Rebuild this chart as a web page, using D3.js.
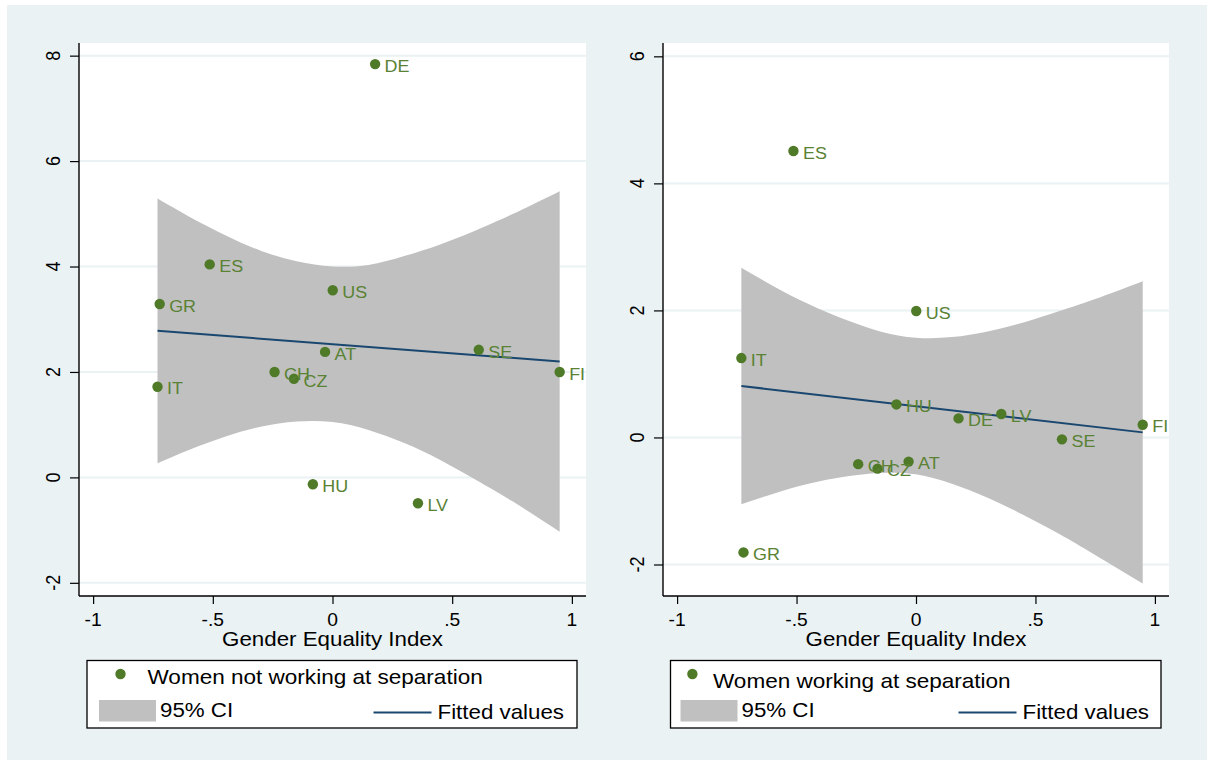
<!DOCTYPE html>
<html>
<head>
<meta charset="utf-8">
<script src="https://cdn.jsdelivr.net/npm/d3@7"></script>
<style>
  html, body { margin: 0; padding: 0; background: #ffffff; }
  svg { display: block; font-family: "Liberation Sans", Arial, Helvetica, sans-serif; }
</style>
</head>
<body>
<svg id="chart" width="1213" height="765"></svg>
<script>
// Country codes and their Gender Equality Index (shared by both panels)
const countries = ["DE", "ES", "US", "GR", "AT", "SE", "CH", "CZ", "FI", "IT", "HU", "LV"];
const gei       = [0.178, -0.513, 0.001, -0.722, -0.031, 0.611, -0.242, -0.161, 0.949, -0.731, -0.082, 0.357];

// Outcome per country
const notWorking = [7.84, 4.04, 3.55, 3.29, 2.38, 2.42, 2.00, 1.87, 2.00, 1.72, -0.13, -0.49];
const working    = [0.30, 4.51, 1.99, -1.81, -0.38, -0.03, -0.42, -0.49, 0.20, 1.25, 0.52, 0.37];

// Fitted line (at lowest and highest index) and 95% CI band
const fitX = [-0.731, 0.949];
const fitNotWorking = [2.78, 2.20];
const fitWorking    = [0.81, 0.08];

const ciX = [-0.731, -0.6, -0.45, -0.3, -0.15, 0, 0.15, 0.3, 0.45, 0.6, 0.75, 0.949];
const ciUpperNotWorking = [5.29, 4.95, 4.60, 4.30, 4.10, 4.00, 4.03, 4.20, 4.42, 4.69, 4.99, 5.43];
const ciLowerNotWorking = [0.27, 0.52, 0.77, 0.96, 1.06, 1.05, 0.90, 0.65, 0.33, -0.05, -0.45, -1.03];
const ciUpperWorking    = [2.67, 2.39, 2.10, 1.86, 1.67, 1.57, 1.58, 1.67, 1.81, 1.99, 2.18, 2.46];
const ciLowerWorking    = [-1.05, -0.89, -0.73, -0.62, -0.56, -0.58, -0.73, -0.95, -1.22, -1.52, -1.85, -2.30];

// Axis ticks
const xTicks = [-1, -0.5, 0, 0.5, 1];
const xTickLabels = ["-1", "-.5", "0", ".5", "1"];
const yTicksNotWorking = [-2, 0, 2, 4, 6, 8];
const yTicksWorking = [-2, 0, 2, 4, 6];

const xTitle = "Gender Equality Index";
const legendNotWorking = "Women not working at separation";
const legendWorking = "Women working at separation";
const legendCI = "95% CI";
const legendFit = "Fitted values";

// Styling
const BG = "#eaf2f3";
const GRID = "#eaf2f3";
const BAND = "#c0c0c0";
const NAVY = "#1a476f";
const MARKER = "#4f7a28";
const LABEL = "#5a8234";
const STRETCH = 1.1;

const svg = d3.select("#chart");

svg.append("rect").attr("x", 7).attr("y", 5).attr("width", 1200).attr("height", 755).attr("fill", BG);

function stretchedText(g, x, y, str, size, anchor, color, rotate) {
  const t = g.append("text")
    .attr("transform", `translate(${x},${y}) scale(${STRETCH},1)` + (rotate ? ` rotate(${rotate})` : ""))
    .attr("font-size", size)
    .attr("fill", color || "#000")
    .attr("text-anchor", anchor || "start")
    .text(str);
  if (rotate) t.attr("dominant-baseline", "central");
  return t;
}

function panel(opts) {
  const g = svg.append("g");
  const L = opts.left, R = opts.right, T = 43, B = 596;
  const x = d3.scaleLinear().domain([-1.059, 1.059]).range([L, R]);
  const y = d3.scaleLinear().domain(opts.yDomain).range([B, T]);

  // plot region
  g.append("rect").attr("x", L).attr("y", T).attr("width", R - L).attr("height", B - T).attr("fill", "#fff");

  // horizontal grid
  g.selectAll(".grid").data(opts.yTicks).join("line")
    .attr("x1", L).attr("x2", R)
    .attr("y1", d => y(d)).attr("y2", d => y(d))
    .attr("stroke", GRID).attr("stroke-width", 2);

  // confidence band
  const band = ciX.map((v, i) => ({ x: v, lo: opts.lower[i], hi: opts.upper[i] }));
  g.append("path").datum(band)
    .attr("d", d3.area().x(d => x(d.x)).y0(d => y(d.lo)).y1(d => y(d.hi)).curve(d3.curveNatural))
    .attr("fill", BAND);

  // fitted line
  g.append("path").datum(fitX.map((v, i) => [v, opts.fit[i]]))
    .attr("d", d3.line().x(d => x(d[0])).y(d => y(d[1])))
    .attr("fill", "none").attr("stroke", NAVY).attr("stroke-width", 2);

  // points
  const pts = countries.map((c, i) => ({ c, x: gei[i], y: opts.values[i] }));
  g.selectAll(".pt").data(pts).join("circle")
    .attr("cx", d => x(d.x)).attr("cy", d => y(d.y)).attr("r", 5.2)
    .attr("fill", MARKER);
  pts.forEach(d => stretchedText(g, x(d.x) + 9.5, y(d.y) + 7.7, d.c, 16.3, "start", LABEL));

  // y axis
  const yAxis = g.append("g").attr("transform", `translate(${L},0)`)
    .call(d3.axisLeft(y).tickValues(opts.yTicks).tickSize(9).tickFormat(""));
  yAxis.select(".domain").attr("d", `M0,${T}V${B}`).attr("stroke", "#000").attr("stroke-width", 1.4);
  yAxis.selectAll(".tick line").attr("stroke", "#000").attr("stroke-width", 1.2);
  opts.yTicks.forEach(v => stretchedText(g, L - 26, y(v), String(v), 18, "middle", "#000", -90));

  // x axis
  const xAxis = g.append("g").attr("transform", `translate(0,${B})`)
    .call(d3.axisBottom(x).tickValues(xTicks).tickSize(8).tickFormat(""));
  xAxis.select(".domain").attr("d", `M${L},0H${R}`).attr("stroke", "#000").attr("stroke-width", 1.4);
  xAxis.selectAll(".tick line").attr("stroke", "#000").attr("stroke-width", 1.2);
  xTicks.forEach((v, i) => stretchedText(g, x(v), 626, xTickLabels[i], 17.5, "middle", "#000"));

  stretchedText(g, x(0), 646, xTitle, 20.3, "middle", "#000");

  // legend
  const lg = opts.legend;
  g.append("rect").attr("x", lg.x).attr("y", 660.5).attr("width", lg.w).attr("height", 67.5)
    .attr("fill", "#fff").attr("stroke", "#000").attr("stroke-width", 1.3);
  g.append("circle").attr("cx", lg.dotX).attr("cy", 674).attr("r", 5.2).attr("fill", MARKER);
  stretchedText(g, lg.textX, lg.textY, lg.label, 20.5, "start", "#000");
  g.append("rect").attr("x", lg.swX).attr("y", 700).attr("width", 57).attr("height", 21.5).attr("fill", BAND);
  stretchedText(g, lg.swX + 61, 717, legendCI, 20.3, "start", "#000");
  g.append("line").attr("x1", lg.lnX).attr("x2", lg.lnX + 58).attr("y1", 712.5).attr("y2", 712.5)
    .attr("stroke", NAVY).attr("stroke-width", 2);
  stretchedText(g, lg.lnX + 64, 719, legendFit, 20.3, "start", "#000");
}

panel({
  left: 79, right: 586, yDomain: [-2.25, 8.24], yTicks: yTicksNotWorking,
  values: notWorking, fit: fitNotWorking, upper: ciUpperNotWorking, lower: ciLowerNotWorking,
  legend: { x: 87, w: 490, dotX: 120.5, textX: 147.5, textY: 683.5, label: legendNotWorking, swX: 99, lnX: 373.5 }
});

panel({
  left: 663, right: 1169, yDomain: [-2.496, 6.21], yTicks: yTicksWorking,
  values: working, fit: fitWorking, upper: ciUpperWorking, lower: ciLowerWorking,
  legend: { x: 670.5, w: 490.5, dotX: 692.4, textX: 713, textY: 687.5, label: legendWorking, swX: 680.5, lnX: 958.5 }
});
</script>
</body>
</html>
